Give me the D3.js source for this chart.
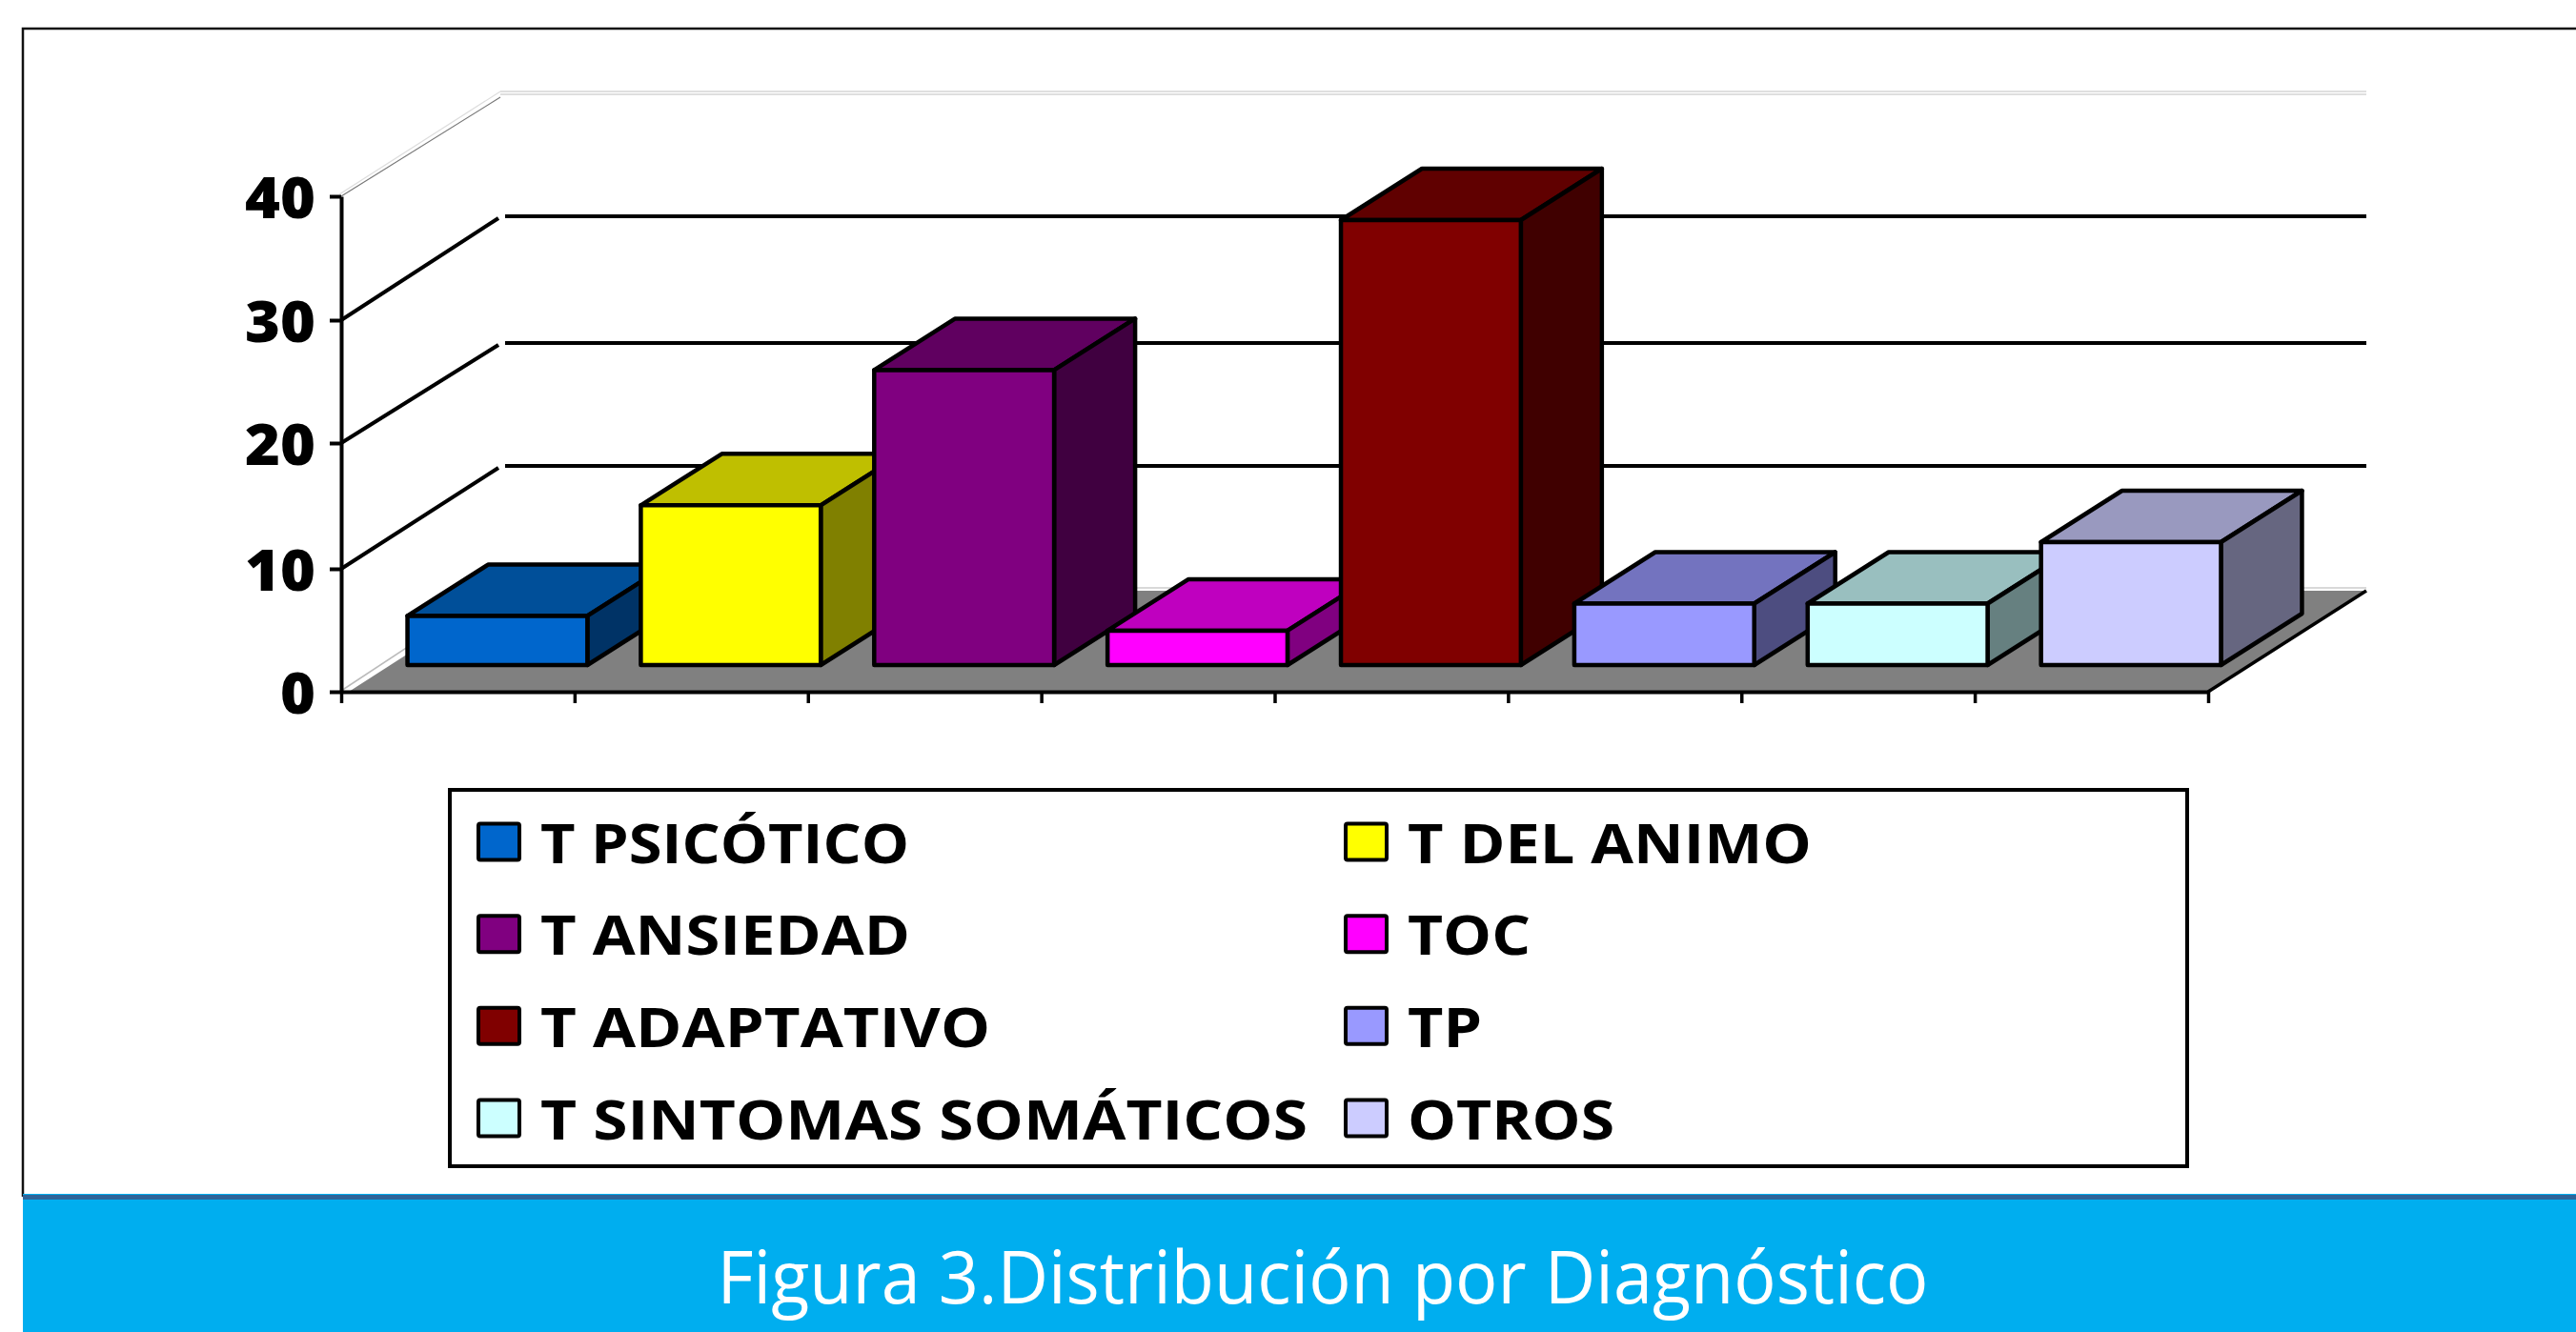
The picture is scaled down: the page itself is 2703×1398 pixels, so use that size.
<!DOCTYPE html>
<html><head><meta charset="utf-8">
<script src="https://cdn.jsdelivr.net/npm/d3@7"></script>
<style>html,body{margin:0;padding:0;background:#fff;overflow:hidden}svg{display:block}text{font-family:"Open Sans",sans-serif}</style>
</head><body><svg id="c" width="2703" height="1398"></svg>
<script>
const categories = ["T PSICÓTICO","T DEL ANIMO","T ANSIEDAD","TOC","T ADAPTATIVO","TP","T SINTOMAS SOMÁTICOS","OTROS"];
const values = [4,13,24,2.8,36.2,5,5,10];
const frontColors = ["#0066CC","#FFFF00","#800080","#FF00FF","#800000","#9999FF","#CCFFFF","#CCCCFF"];
const topColors = ["#004F99","#BFBF00","#600060","#BF00BF","#600000","#7373BF","#99BFBF","#9999BF"];
const sideColors = ["#003366","#808000","#400040","#800080","#400000","#4D4D80","#668080","#666680"];
const yTicks = [0,10,20,30,40];
const title = "Figura 3.Distribución por Diagnóstico";
// widths the stretched labels occupy in the reference
const legendTextWidths = [387,424,388,129,472,78,805,217];

const svg = d3.select("#c");
const ink = "#000";
const line = d3.line();
const boldFont = '"Open Sans",sans-serif';

// frame
svg.append("path").attr("d","M2703,30H24V1256").attr("fill","none").attr("stroke","#111").attr("stroke-width",2.5);

// scales
const yAxisScale = d3.scaleLinear().domain(yTicks).range([726,597,465,336,206]);
const yBackScale = d3.scaleLinear().domain(yTicks).range([620,489,360,227,99]);
const xAxisScale = d3.scaleLinear().domain([0,categories.length]).range([358,2317]);
const xBand = d3.scaleBand().domain(categories).range([399.5,2358.5]).paddingInner(0.229).paddingOuter(0.1145);
const yBar = d3.scaleLinear().domain([0,40]).range([698,182]);
const wallDx = 167, depthDx = 85, depthDy = -54;
const wallRight = 2483;

// walls: back gridlines and side diagonal lines
const g = svg.append("g");
g.selectAll("line.grid").data(yTicks.filter(v=>v>0&&v<40)).join("line").attr("class","grid")
  .attr("x1",358+wallDx+5).attr("x2",wallRight).attr("y1",v=>yBackScale(v)).attr("y2",v=>yBackScale(v))
  .attr("stroke",ink).attr("stroke-width",4);
g.selectAll("line.diag").data(yTicks.filter(v=>v>0&&v<40)).join("line").attr("class","diag")
  .attr("x1",358).attr("y1",v=>yAxisScale(v)).attr("x2",358+wallDx-2).attr("y2",v=>yBackScale(v)+2)
  .attr("stroke",ink).attr("stroke-width",4);
// faint top of the walls
[[0,"#d4d4d4"],[-3,"#d4d4d4"]].forEach(([o,c])=>{
  g.append("line").attr("x1",358+wallDx).attr("x2",wallRight).attr("y1",yBackScale(40)+o).attr("y2",yBackScale(40)+o).attr("stroke",c).attr("stroke-width",1.5);
});
g.append("line").attr("x1",358).attr("y1",yAxisScale(40)).attr("x2",358+wallDx).attr("y2",yBackScale(40)+3).attr("stroke","#777").attr("stroke-width",1.2);
g.append("line").attr("x1",356).attr("y1",yAxisScale(40)-2).attr("x2",358+wallDx).attr("y2",yBackScale(40)-3).attr("stroke","#ddd").attr("stroke-width",1.2);

// floor
g.append("line").attr("x1",358+wallDx).attr("x2",wallRight).attr("y1",yBackScale(0)-3).attr("y2",yBackScale(0)-3).attr("stroke","#ccc").attr("stroke-width",1.5);
g.append("line").attr("x1",358).attr("y1",yAxisScale(0)-1).attr("x2",358+wallDx).attr("y2",yBackScale(0)-5).attr("stroke","#bbb").attr("stroke-width",1.5);
g.append("path").attr("d",line([[366,yAxisScale(0)],[xAxisScale(categories.length),yAxisScale(0)],[wallRight,yBackScale(0)],[358+wallDx+6,yBackScale(0)]])+"Z").attr("fill","#808080");
g.append("line").attr("x1",xAxisScale(categories.length)).attr("y1",yAxisScale(0)).attr("x2",wallRight).attr("y2",yBackScale(0)).attr("stroke",ink).attr("stroke-width",3.5);

// bars
const bars = svg.append("g").attr("stroke",ink).attr("stroke-width",4.5).attr("stroke-linejoin","round");
const data = categories.map((c,i)=>({c,v:values[i],f:frontColors[i],t:topColors[i],s:sideColors[i],w:legendTextWidths[i]}));
bars.selectAll("g").data(data).join("g").each(function(d){
  const s=d3.select(this), x0=xBand(d.c), x1=x0+xBand.bandwidth(), yt=yBar(d.v), yb=yBar(0);
  s.append("path").attr("fill",d.t).attr("d",line([[x0,yt],[x1,yt],[x1+depthDx,yt+depthDy],[x0+depthDx,yt+depthDy]])+"Z");
  s.append("path").attr("fill",d.s).attr("d",line([[x1,yt],[x1+depthDx,yt+depthDy],[x1+depthDx,yb+depthDy],[x1,yb]])+"Z");
  s.append("rect").attr("x",x0).attr("y",yt).attr("width",x1-x0).attr("height",yb-yt).attr("fill",d.f);
});

// axes
const yAx = svg.append("g").attr("transform","translate(358,0)").call(d3.axisLeft(yAxisScale).tickValues(yTicks).tickSize(12).tickPadding(15).tickSizeOuter(0).tickFormat(d3.format("d")));
yAx.select(".domain").attr("stroke",ink).attr("stroke-width",4);
yAx.selectAll(".tick line").attr("stroke",ink).attr("stroke-width",4);
yAx.selectAll(".tick text").attr("font-size",60).attr("font-weight",800).attr("fill",ink).attr("dy","0.37em").style("font-family",boldFont)
  .attr("textLength",d=>d===0?37:74).attr("lengthAdjust","spacingAndGlyphs");
const xAx = svg.append("g").attr("transform","translate(0,726)").call(d3.axisBottom(xAxisScale).tickValues(d3.range(categories.length+1)).tickSize(12).tickSizeOuter(0).tickFormat(""));
xAx.select(".domain").attr("stroke",ink).attr("stroke-width",4);
xAx.selectAll(".tick line").attr("stroke",ink).attr("stroke-width",3.5);

// legend
svg.append("rect").attr("x",472).attr("y",829).attr("width",1823).attr("height",395).attr("fill","#fff").attr("stroke",ink).attr("stroke-width",4);
const rowY = d3.scalePoint().domain([0,1,2,3]).range([883.5,1173.5]);
const colX = d3.scalePoint().domain([0,1]).range([500,1410]);
const leg = svg.append("g").selectAll("g").data(data).join("g").attr("transform",(d,i)=>`translate(${colX(i%2)},${rowY(Math.floor(i/2))})`);
leg.append("rect").attr("x",2).attr("y",-19).attr("width",43).attr("height",38).attr("rx",2).attr("fill",d=>d.f).attr("stroke",ink).attr("stroke-width",4);
leg.append("text").attr("class","lg").attr("x",67).attr("y",22).attr("font-size",58).attr("font-weight",700).attr("fill",ink).style("font-family",boldFont)
  .attr("textLength",d=>d.w).attr("lengthAdjust","spacingAndGlyphs").text(d=>d.c);

// banner
svg.append("rect").attr("x",24).attr("y",1253).attr("width",2679).attr("height",145).attr("fill","#00AEEF");
svg.append("rect").attr("x",24).attr("y",1254).attr("width",2679).attr("height",5).attr("fill","#2E6499");
svg.append("text").attr("x",1388).attr("y",1368).attr("text-anchor","middle").attr("font-size",76).attr("fill","#fff")
  .attr("textLength",1271).attr("lengthAdjust","spacingAndGlyphs").text(title);
</script></body></html>
